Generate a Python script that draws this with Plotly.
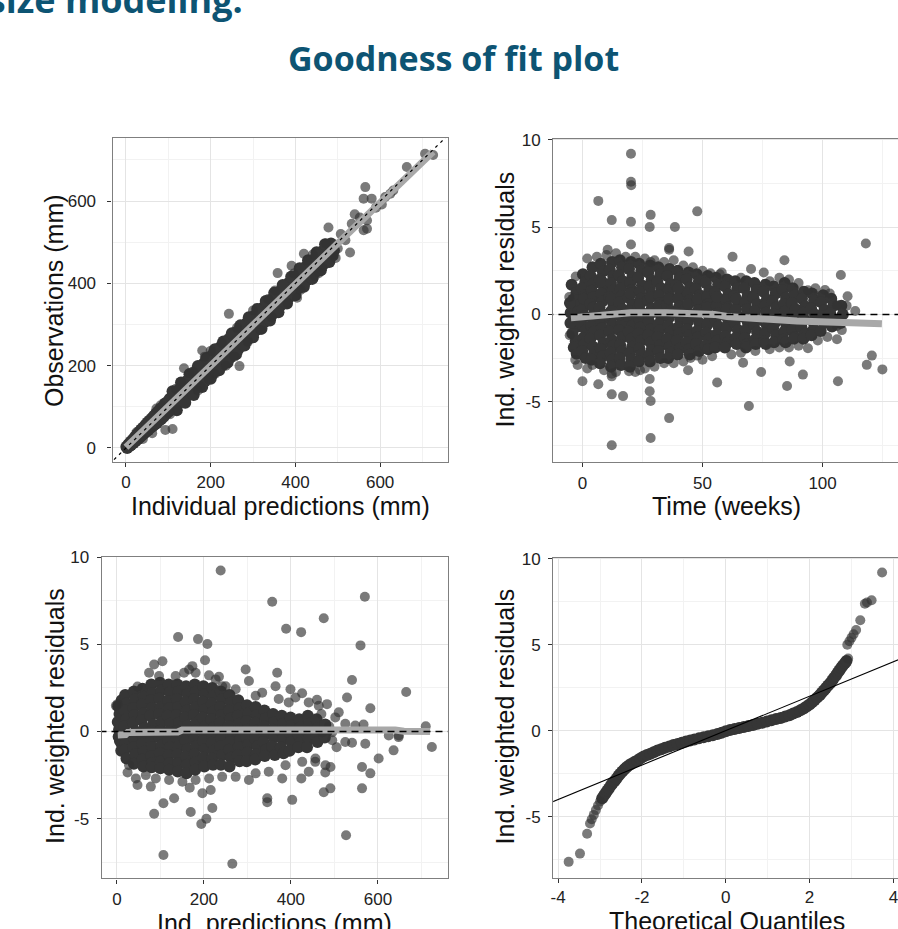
import plotly.graph_objects as go

W, H = 898, 929

# ---------------- data ----------------
# Panel 1: observations vs individual predictions (mm)
p1_core = [
    (1, 3), (3, 0), (6, 9), (8, 4), (11, 15), (12, 7), (16, 20), (18, 12), (21, 27), (23, 17),
    (26, 33), (28, 21), (31, 39), (33, 26), (36, 45), (38, 31), (41, 50), (43, 35), (46, 56), (48, 40),
    (51, 62), (53, 44), (50, 51), (56, 67), (58, 49), (61, 72), (63, 53), (66, 78), (68, 57), (71, 84),
    (73, 61), (76, 89), (78, 66), (81, 95), (83, 70), (86, 99), (89, 76), (90, 91), (92, 108), (95, 83),
    (98, 112), (100, 88), (103, 119), (105, 92), (108, 124), (111, 97), (114, 130), (116, 101), (119, 136),
    (121, 105), (124, 141), (127, 112), (130, 131), (132, 150), (134, 117), (138, 155), (140, 123),
    (143, 162), (146, 128), (149, 168), (151, 133), (154, 175), (157, 137), (160, 181), (162, 141),
    (165, 186), (168, 148), (170, 171), (172, 194), (175, 153), (178, 199), (181, 159), (184, 206),
    (187, 163), (190, 211), (192, 171), (195, 217), (198, 175), (201, 223), (203, 178), (206, 229),
    (209, 185), (210, 211), (213, 236), (216, 190), (219, 242), (222, 197), (225, 247), (228, 201),
    (231, 254), (234, 208), (237, 259), (240, 214), (243, 265), (246, 219), (249, 271), (250, 250),
    (252, 226), (255, 276), (258, 232), (261, 282), (264, 238), (267, 287), (270, 246), (273, 293),
    (276, 252), (279, 298), (282, 259), (285, 304), (288, 265), (290, 291), (291, 309), (294, 272),
    (297, 315), (300, 278), (304, 322), (307, 286), (310, 327), (313, 292), (317, 335), (320, 299),
    (323, 341), (327, 306), (330, 331), (331, 348), (334, 312), (338, 355), (341, 320), (344, 361),
    (348, 327), (351, 368), (354, 334), (358, 375), (361, 341), (364, 381), (367, 348), (370, 371),
    (371, 388), (374, 354), (378, 395), (381, 361), (384, 401), (388, 368), (391, 407), (394, 375),
    (398, 414), (401, 382), (404, 420), (408, 389), (410, 411), (411, 427), (414, 395), (418, 434),
    (421, 401), (424, 440), (428, 408), (431, 446), (434, 415), (438, 453), (441, 421), (444, 459),
    (448, 428), (450, 451), (451, 466), (454, 435), (458, 472), (461, 441), (464, 478), (468, 448),
    (471, 484), (474, 455), (478, 491), (481, 461), (484, 497), (488, 468), (491, 480),
    (110, 138), (130, 159), (150, 179), (170, 199), (190, 219), (210, 240), (230, 259), (250, 279),
    (270, 298), (290, 318), (310, 338), (330, 357), (350, 377), (370, 396), (390, 416), (410, 437),
    (430, 456), (450, 476), (470, 495),
    (120, 92), (140, 110), (160, 129), (180, 148), (200, 168), (220, 189), (240, 208), (260, 228),
    (280, 249), (300, 269), (320, 290), (340, 310), (360, 330), (380, 351), (400, 371), (420, 392),
    (440, 411), (460, 432), (480, 452),
]
p1_sparse = [
    (243, 326), (268, 199), (110, 46), (93, 44), (137, 194), (180, 237), (358, 425), (391, 443),
    (420, 472), (404, 365), (478, 536), (529, 475), (565, 634), (561, 606), (580, 606), (540, 568),
    (533, 545), (569, 553), (569, 533), (561, 529), (604, 592), (631, 626), (624, 618), (663, 683),
    (706, 715), (725, 712), (518, 505), (500, 485), (507, 520), (552, 560), (590, 584), (612, 610),
    (463, 438), (472, 497), (236, 200), (226, 256), (300, 334), (318, 287), (200, 236), (150, 182),
    (121, 92), (72, 96), (62, 36), (441, 470), (352, 383), (382, 352), (288, 258), (210, 180),
    (170, 140), (186, 222), (130, 160), (40, 22), (25, 38), (495, 462), (485, 470), (455, 425),
    (82, 104), (104, 82), (158, 186), (176, 150), (256, 222), (262, 292), (336, 362), (344, 318),
    (396, 424), (412, 384), (428, 456), (446, 418), (118, 144), (196, 168),
]
p1_smooth_x = [0, 100, 200, 300, 400, 500, 600, 725]
p1_smooth_y = [2, 101, 201, 301, 401, 500, 599, 720]
p1_identity = [-40, 770]

# Panel 2: IWRES vs time (weeks)
p2_core = [
    (-4.5, 1.7), (-2.5, 1.25), (-3.8, 0.85), (-2.2, 0.5), (-4.9, 0.1), (-3.0, -0.35), (-1.8, -0.7),
    (-4.2, -1.1), (-2.8, -1.55), (-3.6, -1.9), (-2.4, -2.25), (-5.2, 0.65), (-5.0, -0.5), (-1.6, 0.2),
    (0.2, 2.3), (1.2, 1.85), (-0.3, 1.5), (0.8, 1.1), (1.6, 0.65), (0.0, 0.3), (1.0, -0.1),
    (-0.4, -0.55), (1.4, -0.9), (0.3, -1.35), (0.9, -1.7), (-0.1, -2.1), (1.3, -2.5), (0.6, 0.9),
    (4.2, 2.7), (3.4, 2.2), (4.9, 1.8), (3.9, 1.35), (4.5, 1.0), (3.2, 0.6), (5.1, 0.15), (4.0, -0.2),
    (3.6, -0.65), (4.7, -1.0), (3.3, -1.4), (4.4, -1.85), (5.0, -2.2), (3.8, -2.6), (4.6, 0.4),
    (7.6, 2.9), (8.5, 2.45), (7.2, 2.0), (8.9, 1.6), (7.9, 1.2), (8.3, 0.75), (7.1, 0.4), (8.7, 0.0),
    (7.8, -0.45), (8.2, -0.8), (7.4, -1.2), (8.8, -1.65), (7.7, -2.0), (8.4, -2.4), (7.3, -2.8), (8.0, 1.9),
    (12.3, 3.0), (11.4, 2.55), (12.8, 2.2), (11.9, 1.8), (12.5, 1.35), (11.2, 1.0), (12.9, 0.6),
    (12.0, 0.2), (11.6, -0.25), (12.6, -0.6), (11.3, -1.0), (12.2, -1.45), (12.7, -1.8), (11.7, -2.2),
    (12.4, -2.6), (11.9, -3.0), (12.1, 0.9),
    (15.6, 3.1), (16.5, 2.7), (15.2, 2.25), (16.8, 1.9), (15.9, 1.5), (16.3, 1.05), (15.4, 0.7),
    (16.7, 0.3), (15.8, -0.1), (16.2, -0.55), (15.3, -0.9), (16.6, -1.3), (15.7, -1.75), (16.4, -2.1),
    (15.5, -2.5), (16.1, -2.9), (16.0, 0.0),
    (20.2, 3.0), (19.4, 2.6), (20.8, 2.15), (19.9, 1.8), (20.5, 1.4), (19.2, 0.95), (20.9, 0.6),
    (20.0, 0.2), (19.6, -0.2), (20.6, -0.65), (19.3, -1.0), (20.3, -1.4), (20.7, -1.85), (19.7, -2.2),
    (20.4, -2.6), (19.8, -3.0), (20.1, 1.2),
    (23.6, 2.9), (24.5, 2.5), (23.2, 2.1), (24.8, 1.65), (23.9, 1.3), (24.3, 0.9), (23.4, 0.45),
    (24.7, 0.1), (23.8, -0.3), (24.2, -0.75), (23.3, -1.1), (24.6, -1.5), (23.7, -1.95), (24.4, -2.3),
    (23.5, -2.7), (24.0, 0.6),
    (28.2, 2.8), (27.4, 2.4), (28.8, 1.95), (27.9, 1.6), (28.5, 1.2), (27.2, 0.8), (28.9, 0.35),
    (28.0, 0.0), (27.6, -0.4), (28.6, -0.85), (27.3, -1.2), (28.3, -1.6), (28.7, -2.05), (27.7, -2.4),
    (28.1, -2.7), (28.4, 1.0),
    (31.6, 2.7), (32.5, 2.3), (31.2, 1.85), (32.8, 1.5), (31.9, 1.1), (32.3, 0.65), (31.4, 0.3),
    (32.7, -0.1), (31.8, -0.55), (32.2, -0.9), (31.3, -1.3), (32.6, -1.75), (31.7, -2.1), (32.4, -2.5),
    (32.0, 0.5),
    (36.2, 2.6), (35.4, 2.2), (36.8, 1.75), (35.9, 1.4), (36.5, 1.0), (35.2, 0.55), (36.9, 0.2),
    (36.0, -0.2), (35.6, -0.65), (36.6, -1.0), (35.3, -1.4), (36.3, -1.85), (36.7, -2.2), (35.7, -2.5),
    (36.1, 0.9),
    (39.6, 2.5), (40.5, 2.1), (39.2, 1.65), (40.8, 1.3), (39.9, 0.9), (40.3, 0.45), (39.4, 0.1),
    (40.7, -0.3), (39.8, -0.75), (40.2, -1.1), (39.3, -1.5), (40.6, -1.95), (39.7, -2.3), (40.0, 1.5),
    (44.2, 2.4), (43.4, 2.0), (44.8, 1.55), (43.9, 1.2), (44.5, 0.8), (43.2, 0.35), (44.9, 0.0),
    (44.0, -0.4), (43.6, -0.85), (44.6, -1.2), (43.3, -1.6), (44.3, -2.0), (44.7, -2.3), (44.1, 0.6),
    (47.6, 2.3), (48.5, 1.9), (47.2, 1.45), (48.8, 1.1), (47.9, 0.7), (48.3, 0.25), (47.4, -0.1),
    (48.7, -0.5), (47.8, -0.95), (48.2, -1.3), (47.3, -1.7), (48.6, -2.1), (48.0, 0.9),
    (52.2, 2.2), (51.4, 1.8), (52.8, 1.35), (51.9, 1.0), (52.5, 0.6), (51.2, 0.15), (52.9, -0.2),
    (52.0, -0.6), (51.6, -1.05), (52.6, -1.4), (51.3, -1.8), (52.3, -2.0), (52.1, 0.4),
    (55.6, 2.1), (56.5, 1.7), (55.2, 1.25), (56.8, 0.9), (55.9, 0.5), (56.3, 0.05), (55.4, -0.3),
    (56.7, -0.7), (55.8, -1.15), (56.2, -1.5), (55.3, -1.9), (56.0, 1.0),
    (60.2, 2.0), (59.4, 1.6), (60.8, 1.15), (59.9, 0.8), (60.5, 0.4), (59.2, -0.05), (60.9, -0.4),
    (60.0, -0.8), (59.6, -1.25), (60.6, -1.6), (59.3, -1.9), (60.1, 0.3),
    (63.6, 1.9), (64.5, 1.5), (63.2, 1.05), (64.8, 0.7), (63.9, 0.3), (64.3, -0.15), (63.4, -0.5),
    (64.7, -0.9), (63.8, -1.35), (64.2, -1.7), (64.0, 0.9),
    (68.2, 1.9), (67.4, 1.5), (68.8, 1.05), (67.9, 0.7), (68.5, 0.3), (67.2, -0.15), (68.9, -0.5),
    (68.0, -0.9), (67.6, -1.35), (68.6, -1.7), (68.1, -1.9),
    (71.6, 1.8), (72.5, 1.4), (71.2, 0.95), (72.8, 0.6), (71.9, 0.2), (72.3, -0.25), (71.4, -0.6),
    (72.7, -1.0), (71.8, -1.45), (72.2, -1.7),
    (76.2, 1.7), (75.4, 1.3), (76.8, 0.85), (75.9, 0.5), (76.5, 0.1), (75.2, -0.35), (76.9, -0.7),
    (76.0, -1.1), (75.6, -1.55), (76.4, -1.7),
    (79.6, 1.6), (80.5, 1.2), (79.2, 0.75), (80.8, 0.4), (79.9, 0.0), (80.3, -0.45), (79.4, -0.8),
    (80.7, -1.2), (79.8, -1.6),
    (84.2, 1.8), (83.4, 1.4), (84.8, 0.95), (83.9, 0.6), (84.5, 0.2), (83.2, -0.25), (84.9, -0.6),
    (84.0, -1.0), (83.6, -1.45), (84.6, -1.6),
    (87.6, 1.5), (88.5, 1.1), (87.2, 0.65), (88.8, 0.3), (87.9, -0.1), (88.3, -0.55), (87.4, -0.9),
    (88.7, -1.3), (88.0, -1.4),
    (92.2, 1.3), (91.4, 0.9), (92.8, 0.45), (91.9, 0.1), (92.5, -0.3), (91.2, -0.75), (92.9, -1.1),
    (92.0, -1.4),
    (95.6, 1.2), (96.5, 0.8), (95.2, 0.35), (96.8, 0.0), (95.9, -0.4), (96.3, -0.85), (95.4, -1.2),
    (100.2, 1.1), (99.4, 0.7), (100.8, 0.25), (99.9, -0.1), (100.5, -0.5), (99.2, -0.95),
    (103.6, 0.9), (104.5, 0.5), (103.2, 0.05), (104.8, -0.3), (103.9, -0.7),
    (107.8, 0.5), (108.4, 0.0), (107.5, -0.5),
]
p2_sparse = [
    (20.2, 9.2), (20.2, 7.6), (20.3, 7.4), (6.6, 6.5), (12.2, 5.4), (20.2, 5.3), (28.4, 5.7),
    (28.0, 5.0), (38.5, 5.0), (47.8, 5.9), (20.2, 4.0), (10.5, 3.7), (36.1, 3.8), (36.1, 3.7),
    (44.2, 3.6), (28.4, 3.0), (62.5, 3.3), (84.1, 3.1), (118.0, 4.06), (107.6, 2.26), (110.4, 1.04),
    (93.9, 1.38), (70.2, 2.6), (75.5, 2.4), (53.3, 2.36), (57.2, 2.3), (-2.8, 2.17), (113.6, 0.19),
    (106.0, 0.53), (106.0, -0.66), (106.0, -1.42), (106.4, -3.83), (118.4, -2.89), (120.5, -2.36),
    (124.9, -3.15), (91.8, -3.45), (86.3, -2.7), (85.2, -4.1), (93.9, -1.94), (74.4, -3.3),
    (66.9, -2.77), (69.3, -5.25), (56.1, -3.9), (36.1, -5.94), (28.4, -7.08), (12.2, -7.5),
    (12.2, -4.58), (16.9, -4.68), (12.2, -3.4), (12.2, -3.55), (6.6, -4.0), (0.0, -3.83),
    (28.0, -3.7), (28.0, -4.4), (28.4, -4.96), (24.0, -3.2), (34.0, -2.8), (44.0, -3.2), (45.0, -2.5),
    (47.8, -2.36), (19.4, -3.25), (-2.0, -2.9), (4.2, -2.9),
    (-5.5, 1.0), (-5.3, -1.2), (2.0, 3.2), (6.0, 3.3), (10.0, 3.4), (14.0, 3.5), (18.0, 3.3),
    (22.0, 3.3), (26.0, 3.2), (30.0, 3.1), (34.0, 3.0), (38.0, 3.1), (42.0, 2.8), (46.0, 2.7),
    (50.0, 2.5), (58.0, 2.4), (66.0, 2.1), (78.0, 1.9), (82.0, 2.1), (86.0, 2.0), (90.0, 1.8),
    (97.0, 1.5), (101.0, 1.4), (103.0, 1.2), (110.0, 0.5), (108.0, -0.9), (102.0, -1.3), (98.0, -1.5),
    (90.0, -1.8), (86.0, -1.9), (82.0, -1.9), (78.0, -2.0), (72.0, -2.1), (66.0, -2.2), (62.0, -2.3),
    (54.0, -2.4), (50.0, -2.6), (42.0, -2.7), (38.0, -2.8), (30.0, -3.0), (26.0, -3.1), (22.0, -3.3),
    (14.0, -3.3), (9.0, -3.2), (2.0, -3.1), (-3.0, -2.6),
]
p2_smooth_x = [-4.8, 5, 11.8, 20, 35, 47.8, 55, 60.2, 74.1, 89.3, 108.7, 124.7]
p2_smooth_y = [-0.2, -0.1, 0.05, 0.1, 0.1, 0.08, 0.0, -0.12, -0.27, -0.38, -0.46, -0.53]
p2_zero_x = [-15, 135]

# Panel 3: IWRES vs individual predictions (mm)
p3_core = [
    (3, 1.45), (6, 1.0), (2, 0.55), (5, 0.1), (4, -0.3), (7, -0.55),
    (11, 1.8), (11, 1.3), (12, 0.8), (10, 0.3), (12, -0.2), (11, -0.7), (10, -1.1),
    (19, 2.1), (22, 1.6), (18, 1.2), (21, 0.7), (17, 0.3), (23, -0.15), (20, -0.65), (18, -1.05), (22, -1.55),
    (39, 2.3), (42, 1.85), (38, 1.35), (41, 0.95), (37, 0.5), (43, 0.0), (40, -0.4), (38, -0.9), (42, -1.3),
    (39, -1.85),
    (59, 2.45), (62, 2.0), (58, 1.55), (61, 1.05), (57, 0.65), (63, 0.2), (60, -0.3), (58, -0.7),
    (62, -1.15), (59, -1.6), (61, -2.0),
    (79, 2.7), (82, 2.2), (78, 1.8), (81, 1.35), (77, 0.9), (83, 0.4), (80, 0.0), (78, -0.45), (82, -0.9),
    (79, -1.4), (81, -1.8), (80, -2.05),
    (99, 2.8), (102, 2.35), (98, 1.9), (101, 1.4), (97, 1.0), (103, 0.55), (100, 0.05), (98, -0.35),
    (102, -0.8), (99, -1.25), (101, -1.7), (100, -2.1),
    (119, 2.7), (122, 2.25), (118, 1.75), (121, 1.35), (117, 0.9), (123, 0.45), (120, 0.0), (118, -0.5),
    (122, -0.9), (119, -1.35), (121, -1.8), (120, -2.2),
    (139, 2.7), (142, 2.3), (138, 1.85), (141, 1.4), (137, 0.95), (143, 0.5), (140, 0.05), (138, -0.4),
    (142, -0.85), (139, -1.3), (141, -1.8), (140, -2.3),
    (159, 2.6), (162, 2.15), (158, 1.7), (161, 1.2), (157, 0.8), (163, 0.35), (160, -0.1), (158, -0.55),
    (162, -1.0), (159, -1.45), (161, -1.9), (160, -2.4),
    (179, 2.7), (182, 2.3), (178, 1.85), (181, 1.4), (177, 0.95), (183, 0.5), (180, 0.05), (178, -0.45),
    (182, -0.85), (179, -1.3), (181, -1.75), (180, -2.2),
    (199, 2.6), (202, 2.15), (198, 1.7), (201, 1.25), (197, 0.8), (203, 0.3), (200, -0.1), (198, -0.55),
    (202, -1.0), (199, -1.5), (201, -2.0),
    (219, 2.5), (222, 2.05), (218, 1.6), (221, 1.15), (217, 0.7), (223, 0.25), (220, -0.2), (218, -0.65),
    (222, -1.1), (219, -1.55), (221, -1.9),
    (239, 2.3), (242, 1.85), (238, 1.4), (241, 0.95), (237, 0.5), (243, 0.05), (240, -0.4), (238, -0.85),
    (242, -1.35), (239, -1.9),
    (259, 2.1), (262, 1.65), (258, 1.2), (261, 0.75), (257, 0.3), (263, -0.15), (260, -0.6), (258, -1.05),
    (262, -1.5), (259, -2.0),
    (279, 1.8), (282, 1.35), (278, 0.9), (281, 0.45), (277, 0.0), (283, -0.45), (280, -0.9), (278, -1.35),
    (282, -1.7),
    (299, 1.5), (302, 1.05), (298, 0.6), (301, 0.15), (297, -0.3), (303, -0.75), (300, -1.2), (298, -1.7),
    (319, 1.4), (322, 0.95), (318, 0.5), (321, 0.05), (317, -0.4), (323, -0.85), (320, -1.3), (318, -1.6),
    (339, 1.2), (342, 0.75), (338, 0.3), (341, -0.15), (337, -0.6), (343, -1.05), (340, -1.4),
    (359, 1.0), (362, 0.55), (358, 0.1), (361, -0.35), (357, -0.85), (363, -1.35),
    (379, 0.9), (382, 0.45), (378, 0.0), (381, -0.45), (377, -0.9), (383, -1.25),
    (399, 0.8), (402, 0.35), (398, -0.1), (401, -0.6), (397, -1.1),
    (419, 0.7), (422, 0.25), (418, -0.2), (421, -0.65), (417, -0.9),
    (439, 0.9), (442, 0.45), (438, 0.0), (441, -0.45), (437, -0.9),
    (459, 0.7), (462, 0.2), (458, -0.3), (461, -0.6),
    (479, 0.4), (482, 0.0), (478, -0.35),
]
p3_sparse = [
    (238.5, 9.24), (357, 7.44), (570, 7.73), (475.5, 6.5), (389, 5.89), (423.5, 5.7), (560, 4.94),
    (140.7, 5.42), (186.5, 5.3), (208, 5.02), (202.6, 4.09), (540.5, 2.95), (665, 2.27), (582.6, 1.33),
    (529, 1.95), (510, 1.1), (710, 0.3), (724, -0.89), (636, -1.08), (647.6, -0.32), (601.7, -1.55),
    (563.5, -2.03), (582.6, -2.4), (563.5, -3.26), (525, -0.6), (540.5, -0.64), (526.8, -5.95),
    (490.8, -3.26), (475.5, -3.48), (479.4, -1.93), (403, -3.92), (345.6, -3.83), (345.6, -4.05),
    (424, -2.69), (380, -2.69), (303.5, -2.78), (265.3, -7.58), (107, -7.08), (85.6, -4.72),
    (107, -4.11), (131.5, -3.83), (169.7, -4.62), (194, -5.3), (205.7, -5.0), (219.4, -4.39),
    (215.6, -3.35), (167.4, -3.22), (47.4, -3.07), (78, -3.16), (24.5, -2.35), (196.5, -3.54),
    (85.6, 3.84), (104.7, 4.03), (173.5, 3.75), (166, 3.56), (234.6, 3.14), (250, 2.6), (296, 3.56),
    (303.5, 2.9), (368.5, 3.37), (364.7, 2.6), (399, 2.42), (425.8, 2.2), (460, 1.82), (483, 1.57),
    (1.5, 1.57), (47.4, 2.58), (211.8, 3.22),
    (502, 0.81), (525, 0.44), (548, 0.34), (567, 0.4), (571, -0.7), (625, -0.23), (648, -0.23),
    (495, -0.04), (472, -0.04), (491, -2.03), (479, -2.35), (456, -1.74), (441, -2.31),
    (495, -0.5), (505, -0.9), (488, 0.3), (470, 1.0),
    (74, 3.37), (97, 3.18), (135, 3.18), (154.4, 3.37), (181, 3.37), (227, 2.99), (242, 2.6),
    (273, 2.42), (319, 2.05), (334, 2.23), (372, 1.86), (395, 1.67), (410.5, 1.95), (441, 1.67),
    (464, 1.48), (-2.3, 1.48),
    (28, -1.93), (43.6, -2.69), (66.5, -2.5), (89.4, -2.69), (120, -2.78), (150.6, -2.88),
    (181, -2.78), (212, -2.69), (242, -2.6), (273, -2.6), (319, -2.4), (349, -2.31), (387.6, -1.93),
    (426, -1.74), (456.4, -1.55),
]
p3_smooth_x = [2, 20, 25, 140, 150, 400, 640, 660, 720]
p3_smooth_y = [-0.2, -0.18, -0.05, -0.03, 0.08, 0.1, 0.08, 0.02, 0.0]
p3_zero_x = [-40, 770]

# Panel 4: normal QQ plot of IWRES
p4_core = [
    (-2.95, -3.93), (-2.91, -3.78), (-2.87, -3.64), (-2.83, -3.50), (-2.79, -3.36), (-2.74, -3.18),
    (-2.70, -3.05), (-2.66, -2.94), (-2.61, -2.80), (-2.56, -2.63), (-2.52, -2.50), (-2.47, -2.38),
    (-2.42, -2.25), (-2.37, -2.13), (-2.31, -2.02), (-2.25, -1.92), (-2.18, -1.82), (-2.11, -1.73),
    (-2.04, -1.62), (-1.96, -1.51), (-1.88, -1.42), (-1.80, -1.34), (-1.72, -1.25), (-1.63, -1.16),
    (-1.54, -1.08), (-1.45, -1.00), (-1.35, -0.92), (-1.25, -0.84), (-1.15, -0.77), (-1.05, -0.70),
    (-0.95, -0.63), (-0.85, -0.57), (-0.75, -0.51), (-0.64, -0.45), (-0.53, -0.39), (-0.42, -0.33),
    (-0.31, -0.27), (-0.20, -0.20), (-0.10, -0.12), (0.00, -0.04), (0.10, 0.03), (0.21, 0.09),
    (0.32, 0.15), (0.43, 0.21), (0.54, 0.27), (0.65, 0.33), (0.76, 0.40), (0.87, 0.46), (0.98, 0.53),
    (1.09, 0.60), (1.20, 0.67), (1.31, 0.74), (1.42, 0.82), (1.52, 0.90), (1.61, 0.99), (1.70, 1.08),
    (1.78, 1.18), (1.86, 1.29), (1.93, 1.40), (2.00, 1.52), (2.06, 1.65), (2.12, 1.78), (2.18, 1.92),
    (2.24, 2.06), (2.29, 2.20), (2.34, 2.34), (2.39, 2.48), (2.44, 2.62), (2.49, 2.76), (2.54, 2.91),
    (2.58, 3.06), (2.63, 3.21), (2.67, 3.36), (2.71, 3.50), (2.75, 3.64), (2.79, 3.78), (2.84, 3.92),
    (2.88, 4.05),
]
p4_sparse = [
    (-3.75, -7.63), (-3.48, -7.15), (-3.31, -6.0), (-3.24, -5.40), (-3.20, -5.15), (-3.15, -4.90),
    (-3.10, -4.62), (-3.05, -4.35), (-3.00, -4.12), (2.92, 4.20), (2.90, 4.99), (2.95, 5.20),
    (3.00, 5.40), (3.05, 5.60), (3.11, 5.85), (3.21, 6.42), (3.32, 7.38), (3.37, 7.45), (3.48, 7.58),
    (3.73, 9.2),
]
p4_line = [-4.3, 4.3]

# tick values / labels
p1_ticks = [0, 200, 400, 600]
p1_tick_labels = ["0", "200", "400", "600"]
p1_minor = [100, 300, 500, 700]
res_ticks = [-5, 0, 5, 10]
res_tick_labels = ["-5", "0", "5", "10"]
res_minor = [-7.5, -2.5, 2.5, 7.5]
time_ticks = [0, 50, 100]
time_tick_labels = ["0", "50", "100"]
time_minor = [25, 75, 125]
qq_ticks = [-4, -2, 0, 2, 4]
qq_tick_labels = ["-4", "-2", "0", "2", "4"]
qq_minor = [-3, -1, 1, 3]

# ---------------- figure ----------------
CORE = "rgb(54,54,54)"
SPARSE = "rgba(51,51,51,0.65)"
SMOOTH = "#a8a8a8"
TICKFONT = dict(family="Liberation Sans, Arial, sans-serif", size=17, color="#222222")
TITLEFONT = dict(family="Liberation Sans, Arial, sans-serif", size=25, color="#111111")

fig = go.Figure()


def add_points(pts, n, core):
    xs, ys = zip(*pts)
    fig.add_trace(go.Scatter(
        x=list(xs), y=list(ys), mode="markers", xaxis="x" + n, yaxis="y" + n,
        marker=dict(size=12 if core else 10, color=CORE if core else SPARSE, line=dict(width=0)),
        hoverinfo="skip"))


def add_line(xs, ys, n, color, width, dash=None):
    fig.add_trace(go.Scatter(
        x=xs, y=ys, mode="lines", xaxis="x" + n, yaxis="y" + n,
        line=dict(color=color, width=width, dash=dash), hoverinfo="skip"))


# panel 1
add_points(p1_core, "", True)
add_points(p1_sparse, "", False)
add_line(p1_smooth_x, p1_smooth_y, "", SMOOTH, 7)
add_line(p1_identity, p1_identity, "", "black", 1.2, "3px,4px")
# panel 2
add_points(p2_core, "2", True)
add_points(p2_sparse, "2", False)
add_line(p2_smooth_x, p2_smooth_y, "2", SMOOTH, 7)
add_line(p2_zero_x, [0, 0], "2", "black", 1.5, "7px,5px")
# panel 3
add_points(p3_core, "3", True)
add_points(p3_sparse, "3", False)
add_line(p3_smooth_x, p3_smooth_y, "3", SMOOTH, 7)
add_line(p3_zero_x, [0, 0], "3", "black", 1.5, "7px,5px")
# panel 4
add_points(p4_core, "4", True)
add_points(p4_sparse, "4", False)
add_line(p4_line, p4_line, "4", "black", 1.1)


def ax(domain, rng, tickvals, ticktext, minor_vals, mirror, standoff=4):
    return dict(
        domain=domain, range=rng, tickmode="array", tickvals=tickvals, ticktext=ticktext,
        showline=True, linecolor="#7f7f7f", linewidth=1.3, mirror=mirror,
        ticks="outside", ticklen=4, tickwidth=1.2, tickcolor="#333333",
        showgrid=True, gridcolor="#e4e4e4", gridwidth=1.3, zeroline=False,
        minor=dict(tickmode="array", tickvals=minor_vals, showgrid=True,
                   gridcolor="#f2f2f2", gridwidth=1, ticks=""),
        tickfont=TICKFONT, ticklabelstandoff=standoff, ticklabeloverflow="allow",
        fixedrange=True)


def dx(a, b):
    return [a / W, min(b / W, 1.0)]


def dy(top, bottom):
    return [1 - bottom / H, 1 - top / H]


fig.update_layout(
    width=W, height=H, margin=dict(l=0, r=0, t=0, b=0),
    paper_bgcolor="white", plot_bgcolor="white", showlegend=False,
    xaxis=ax(dx(110, 446), [-31.4, 759], p1_ticks, p1_tick_labels, p1_minor, True, 1),
    yaxis=ax(dy(130, 457), [-33, 754], p1_ticks, p1_tick_labels, p1_minor, True, 8),
    xaxis2=ax(dx(552, 898), [-12.2, 131.4], time_ticks, time_tick_labels, time_minor, True, 2),
    yaxis2=ax(dy(131, 457), [-8.43, 10.06], res_ticks, res_tick_labels, res_minor, False),
    xaxis3=ax(dx(99, 446), [-35, 760], p1_ticks, p1_tick_labels, p1_minor, True, 1),
    yaxis3=ax(dy(553, 878), [-8.43, 10.03], res_ticks, res_tick_labels, res_minor, True),
    xaxis4=ax(dx(552, 898), [-4.12, 4.11], qq_ticks, qq_tick_labels, qq_minor, True, 0),
    yaxis4=ax(dy(554, 877), [-8.54, 10.06], res_ticks, res_tick_labels, res_minor, False),
)
for n in ["", "2", "3", "4"]:
    fig.layout["xaxis" + n].anchor = "y" + n
    fig.layout["yaxis" + n].anchor = "x" + n


def ann(text, x, y, font, angle=0, xanchor="center"):
    return dict(text=text, x=x / W, y=1 - y / H, xref="paper", yref="paper",
                xanchor=xanchor, yanchor="middle", showarrow=False, textangle=angle, font=font)


teal = "#0d5473"
annotations = [
    ann("Tumor size modeling:", 243, -10,
        dict(family="Open Sans, sans-serif", size=36, color=teal, weight=700), xanchor="right"),
    ann("Goodness of fit plot", 452, 49,
        dict(family="Open Sans, sans-serif", size=34, color=teal, weight=700)),
    ann("Individual predictions (mm)", 278, 502, TITLEFONT),
    ann("Observations (mm)", 51, 294, TITLEFONT, -90),
    ann("Time (weeks)", 726, 502, TITLEFONT),
    ann("Ind. weighted residuals", 504, 293, TITLEFONT, -90),
    ann("Ind. predictions (mm)", 272, 923, TITLEFONT),
    ann("Ind. weighted residuals", 52, 714, TITLEFONT, -90),
    ann("Theoretical Quantiles", 726, 921, TITLEFONT),
    ann("Ind. weighted residuals", 504, 714, TITLEFONT, -90),
]
fig.update_layout(annotations=annotations)

fig.write_html("out.html")
